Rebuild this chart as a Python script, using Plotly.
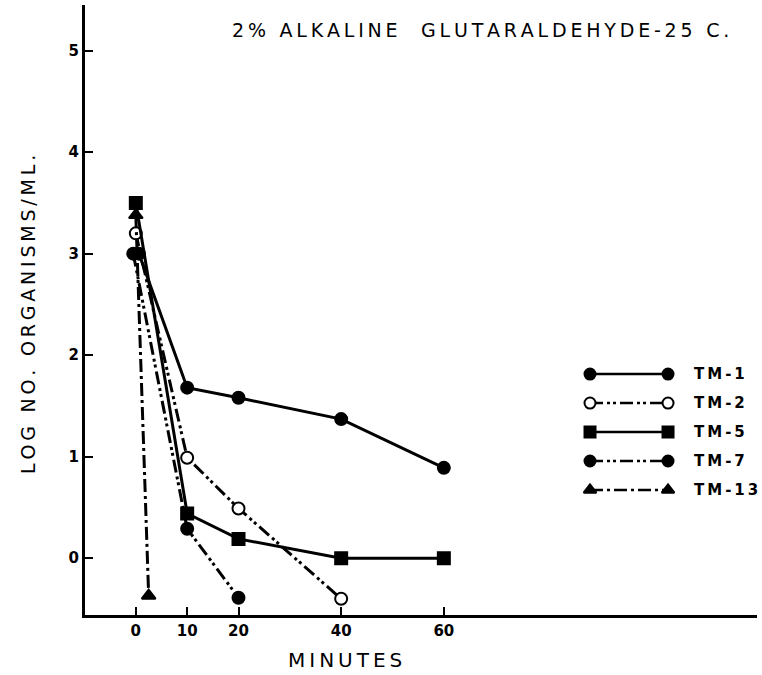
import plotly.graph_objects as go

# ---- data ----
series_names = ["TM-1", "TM-2", "TM-5", "TM-7", "TM-13"]
tm1_x = [0.6, 10, 20, 40, 60]
tm1_y = [3.0, 1.68, 1.58, 1.37, 0.89]
tm2_x = [0, 10, 20, 40]
tm2_y = [3.2, 0.99, 0.49, -0.40]
tm5_x = [0, 10, 20, 40, 60]
tm5_y = [3.5, 0.44, 0.19, 0.0, 0.0]
tm7_x = [-0.5, 10, 20]
tm7_y = [3.0, 0.29, -0.39]
tm13_x = [0, 2.5]
tm13_y = [3.38, -0.37]
x_ticks = [0, 10, 20, 40, 60]
y_ticks = [0, 1, 2, 3, 4, 5]

xs = [tm1_x, tm2_x, tm5_x, tm7_x, tm13_x]
ys = [tm1_y, tm2_y, tm5_y, tm7_y, tm13_y]
symbols = ["circle", "circle", "square", "circle", "triangle-up"]
fills = ["black", "white", "black", "black", "black"]
dashes = ["solid", "13px,4px,3px,3px,3px,4px", "solid", "13px,4px,3px,3px,3px,4px", "13px,4px,3px,4px"]

FONT = "DejaVu Sans"
TS = "\u2009"  # thin space used as letter spacing


def spaced(s, sep=TS):
    return sep.join(list(s))


fig = go.Figure()
for name, x, y, sym, fc, d in zip(series_names, xs, ys, symbols, fills, dashes):
    fig.add_trace(go.Scatter(
        x=x, y=y, mode="lines+markers", name=name, showlegend=False,
        line=dict(color="black", width=3, dash=d),
        marker=dict(symbol=sym, size=12, color=fc, line=dict(color="black", width=2)),
    ))

# custom legend on hidden axes
row0 = 0.395
step = 0.0475
annotations = []
for i, (name, sym, fc, d) in enumerate(zip(series_names, symbols, fills, dashes)):
    yy = row0 - i * step
    fig.add_trace(go.Scatter(
        x=[0, 1], y=[yy, yy], mode="lines+markers", xaxis="x2", yaxis="y2",
        showlegend=False, hoverinfo="skip", cliponaxis=False,
        line=dict(color="black", width=2.5, dash=d),
        marker=dict(symbol=sym, size=11, color=fc, line=dict(color="black", width=2)),
    ))
    annotations.append(dict(x=0.903, y=yy, xref="paper", yref="paper", text=spaced(name),
                            showarrow=False, xanchor="left", yanchor="middle",
                            font=dict(family=FONT, size=15, color="black", weight="bold")))

annotations += [
    dict(x=0.588, y=0.959, xref="paper", yref="paper",
         text=spaced("2% ALKALINE  GLUTARALDEHYDE-25 C."), showarrow=False,
         xanchor="center", yanchor="middle",
         font=dict(family=FONT, size=19, color="black")),
    dict(x=0.387, y=-0.074, xref="paper", yref="paper", text=spaced("MINUTES"),
         showarrow=False, xanchor="center", yanchor="middle",
         font=dict(family=FONT, size=20, color="black")),
    dict(x=-0.0848, y=0.492, xref="paper", yref="paper",
         text=spaced("LOG NO. ORGANISMS/ML."), showarrow=False, textangle=-90,
         xanchor="center", yanchor="middle",
         font=dict(family=FONT, size=19, color="black")),
]

fig.update_layout(
    width=762, height=675,
    margin=dict(l=85, r=5, t=5, b=60),
    paper_bgcolor="white", plot_bgcolor="white",
    annotations=annotations,
    xaxis=dict(range=[-9.9, 121], tickvals=x_ticks, ticktext=[str(v) for v in x_ticks],
               showgrid=False, zeroline=False, showline=True, linecolor="black", linewidth=3,
               ticks="inside", ticklen=8, tickwidth=2, tickcolor="black",
               tickfont=dict(family=FONT, size=15, color="black", weight="bold")),
    yaxis=dict(range=[-0.56, 5.45], tickvals=y_ticks, ticktext=[str(v) for v in y_ticks],
               showgrid=False, zeroline=False, showline=True, linecolor="black", linewidth=3,
               ticks="inside", ticklen=8, tickwidth=2, tickcolor="black",
               tickfont=dict(family=FONT, size=15, color="black", weight="bold")),
    xaxis2=dict(domain=[0.7515, 0.8676], range=[0, 1], visible=False, anchor="y2"),
    yaxis2=dict(domain=[0, 1], range=[0, 1], visible=False, anchor="x2"),
)

fig.write_html("out.html")
